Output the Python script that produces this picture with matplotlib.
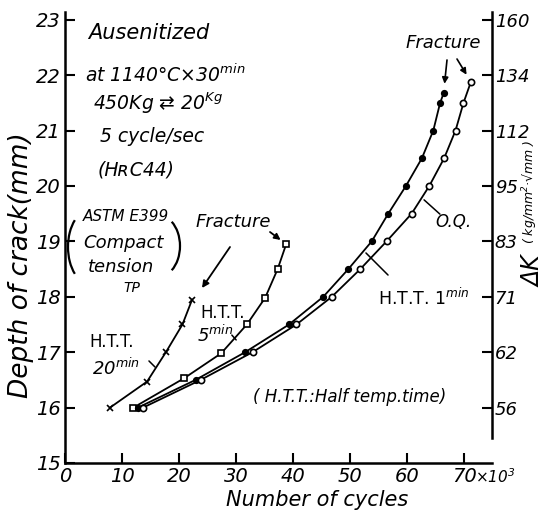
import numpy as np
import matplotlib.pyplot as plt
from matplotlib.patches import Arc

plt.rcParams['font.family'] = ['DejaVu Sans']
plt.rcParams['font.style'] = 'italic'
plt.rcParams['mathtext.fontset'] = 'dejavusans'

W, H = 549, 517

# H.T.T. 20 min (crosses)
cyc_20 = [7.9, 14.4, 17.7, 20.6, 22.3]
dep_20 = [16.0, 16.47, 17.0, 17.5, 17.95]
# H.T.T. 5 min (open squares)
cyc_5 = [12.0, 20.9, 27.4, 31.9, 35.1, 37.3, 38.8]
dep_5 = [16.0, 16.53, 16.98, 17.5, 17.98, 18.5, 18.95]
# H.T.T. 1 min (filled dots)
cyc_1 = [12.8, 22.9, 31.6, 39.3, 45.3, 49.7, 53.8, 56.7, 59.8, 62.6, 64.6, 65.8, 66.4]
dep_1 = [16.0, 16.5, 17.0, 17.5, 18.0, 18.5, 19.0, 19.5, 20.0, 20.5, 21.0, 21.5, 21.67]
# O.Q. (open circles)
cyc_oq = [13.7, 23.8, 32.9, 40.6, 46.8, 51.8, 56.4, 60.8, 63.9, 66.5, 68.5, 69.9, 71.2]
dep_oq = [16.0, 16.5, 17.0, 17.5, 18.0, 18.5, 19.0, 19.5, 20.0, 20.5, 21.0, 21.5, 21.88]

x_ticks = [0, 10, 20, 30, 40, 50, 60, 70]
x_labels = ['0', '10', '20', '30', '40', '50', '60', '70']
y_ticks = [15, 16, 17, 18, 19, 20, 21, 22, 23]
dk_pos = [16, 17, 18, 19, 20, 21, 22, 23]
dk_labels = ['56', '62', '71', '83', '95', '112', '134', '160']


def P(x, y):
    # reference pixel -> figure fraction
    return (x / W, 1 - y / H)


fig = plt.figure(figsize=(W / 100, H / 100), dpi=100)
ax = fig.add_axes([65 / W, 1 - 463 / H, (492 - 65) / W, (463 - 12) / H])
ax.set_xlim(0, 74.9)
ax.set_ylim(15, 23.14)
ax.spines['top'].set_visible(False)
ax.spines['right'].set_visible(False)
for s in ['left', 'bottom']:
    ax.spines[s].set_linewidth(1.8)
ax.set_xticks(x_ticks)
ax.set_xticklabels(x_labels)
ax.set_yticks(y_ticks)
ax.tick_params(direction='in', length=7, width=1.5, labelsize=14, pad=3)

ax2 = ax.twinx()
ax2.set_ylim(15, 23.14)
for s in ['left', 'bottom', 'top']:
    ax2.spines[s].set_visible(False)
ax2.spines['right'].set_linewidth(1.8)
ax2.spines['right'].set_bounds(15.45, 23.14)
ax2.set_yticks(dk_pos)
ax2.set_yticklabels(dk_labels)
ax2.tick_params(direction='in', length=7, width=1.5, labelsize=13, pad=2)

lw = 1.3
ax.plot(cyc_20, dep_20, '-', color='k', lw=lw, marker='x', ms=4, mew=1.2)
ax.plot(cyc_5, dep_5, '-', color='k', lw=lw, marker='s', ms=4.5, mfc='white', mew=1.2)
ax.plot(cyc_1, dep_1, '-', color='k', lw=lw, marker='o', ms=4, mfc='k', mew=1.2)
ax.plot(cyc_oq, dep_oq, '-', color='k', lw=lw, marker='o', ms=4.5, mfc='white', mew=1.2)

ax.annotate('×10$^3$', xy=(70, 0), xycoords=('data', 'axes fraction'),
            xytext=(8, -3), textcoords='offset points', ha='left', va='top', fontsize=11)

# axis labels
fig.text(*P(317, 500), 'Number of cycles', ha='center', va='center', fontsize=15)
fig.text(*P(21, 265), 'Depth of crack(mm)', ha='center', va='center', fontsize=19, rotation=90)
fig.text(*P(533, 271), 'ΔK', ha='center', va='center', fontsize=17, rotation=90)
fig.text(*P(530, 192), '( kg/mm$^2$·√mm )', ha='center', va='center', fontsize=9, rotation=90)

# condition notes
fig.text(*P(88, 33), 'Ausenitized', ha='left', va='center', fontsize=15)
fig.text(*P(85, 75), 'at 1140°C×30$^{min}$', ha='left', va='center', fontsize=13.5)
fig.text(*P(93, 103), '450Kg ⇄ 20$^{Kg}$', ha='left', va='center', fontsize=13.5)
fig.text(*P(100, 137), '5 cycle/sec', ha='left', va='center', fontsize=13.5)
fig.text(*P(98, 170), '(HʀC44)', ha='left', va='center', fontsize=13.5)

fig.text(*P(83, 217), 'ASTM E399', ha='left', va='center', fontsize=11)
fig.text(*P(83, 243), 'Compact', ha='left', va='center', fontsize=13)
fig.text(*P(88, 267), 'tension', ha='left', va='center', fontsize=13)
fig.text(*P(132, 288), 'TP', ha='center', va='center', fontsize=10)
for cx, cy, w, h, t1, t2 in [(90, 247, 44, 74, 118, 242), (158, 246, 44, 62, -62, 62)]:
    fx, fy = P(cx, cy)
    fig.add_artist(Arc((fx, fy), w / W, h / H, theta1=t1, theta2=t2,
                       transform=fig.transFigure, color='k', lw=1.6))

# curve labels
fig.text(*P(233, 222), 'Fracture', ha='center', va='center', fontsize=13)
ax.annotate('', xy=(cyc_5[-1], dep_5[-1]), xytext=P(270, 232), textcoords='figure fraction',
            arrowprops=dict(arrowstyle='-|>', color='k', lw=1.3, shrinkA=0, shrinkB=5,
                            mutation_scale=9))
ax.annotate('', xy=P(202, 288), xycoords='figure fraction', xytext=P(230, 247),
            textcoords='figure fraction',
            arrowprops=dict(arrowstyle='-|>', color='k', lw=1.3, shrinkA=0, shrinkB=0,
                            mutation_scale=10))

fig.text(*P(89, 342), 'H.T.T.', ha='left', va='center', fontsize=12, style='normal')
fig.text(*P(92, 368), '20$^{min}$', ha='left', va='center', fontsize=13)
ax.annotate('', xy=P(157, 369), xycoords='figure fraction', xytext=P(147, 359),
            textcoords='figure fraction', arrowprops=dict(arrowstyle='-', color='k', lw=1.1))

fig.text(*P(200, 313), 'H.T.T.', ha='left', va='center', fontsize=12, style='normal')
fig.text(*P(197, 335), '5$^{min}$', ha='left', va='center', fontsize=13)
ax.annotate('', xy=P(238, 342), xycoords='figure fraction', xytext=P(230, 333),
            textcoords='figure fraction', arrowprops=dict(arrowstyle='-', color='k', lw=1.1))

fig.text(*P(443, 43), 'Fracture', ha='center', va='center', fontsize=13)
ax.annotate('', xy=(cyc_1[-1], dep_1[-1]), xytext=P(447, 60), textcoords='figure fraction',
            arrowprops=dict(arrowstyle='-|>', color='k', lw=1.2, shrinkA=0, shrinkB=7,
                            mutation_scale=9))
ax.annotate('', xy=(cyc_oq[-1], dep_oq[-1]), xytext=P(457, 59), textcoords='figure fraction',
            arrowprops=dict(arrowstyle='-|>', color='k', lw=1.2, shrinkA=0, shrinkB=6,
                            mutation_scale=9))

fig.text(*P(453, 222), 'O.Q.', ha='center', va='center', fontsize=12)
ax.annotate('', xy=P(422, 198), xycoords='figure fraction', xytext=P(442, 216),
            textcoords='figure fraction', arrowprops=dict(arrowstyle='-', color='k', lw=1.1))

fig.text(*P(378, 298), 'H.T.T. 1$^{min}$', ha='left', va='center', fontsize=12.5, style='normal')
ax.annotate('', xy=P(364, 251), xycoords='figure fraction', xytext=P(390, 277),
            textcoords='figure fraction', arrowprops=dict(arrowstyle='-', color='k', lw=1.1))

fig.text(*P(350, 397), '( H.T.T.:Half temp.time)', ha='center', va='center', fontsize=12)

fig.savefig('out.png', dpi=100)
